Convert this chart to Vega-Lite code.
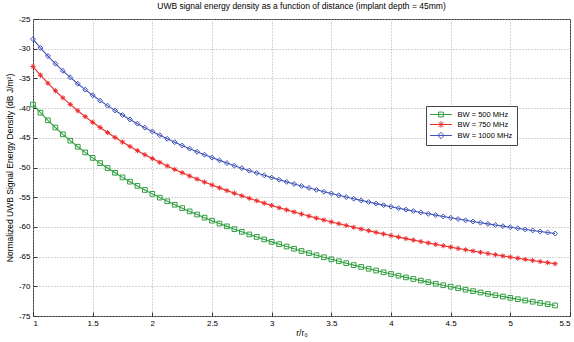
{
  "$schema": "https://vega.github.io/schema/vega-lite/v6.json",
  "width": 537,
  "height": 297,
  "autosize": "none",
  "padding": {"left": 33, "top": 19, "right": 4, "bottom": 26},
  "background": "white",
  "title": {"text": "UWB signal energy density as a function of distance (implant depth = 45mm)", "font": "Liberation Sans", "fontSize": 8.5, "fontWeight": "normal", "color": "#000", "offset": 5},
  "config": {
    "locale": {"number": {"decimal": ".", "thousands": ",", "grouping": [3], "currency": ["$", ""], "minus": "-"}},
    "view": {"stroke": "#333", "strokeWidth": 1},
    "axis": {"labelFont": "Liberation Sans", "labelFontSize": 8, "labelColor": "#000", "titleFont": "Liberation Sans", "titleFontSize": 8.5, "titleFontWeight": "normal", "titleColor": "#000", "grid": true, "gridColor": "#aaa", "gridDash": [1, 2], "gridOpacity": 1, "domain": false, "tickColor": "#333", "tickSize": -4, "labelPadding": 7},
    "legend": {"title": null, "orient": "none", "legendX": 393, "legendY": 87, "fillColor": "white", "strokeColor": "#444", "padding": 4, "symbolSize": 64, "symbolOffset": 6.5, "labelOffset": 12, "rowPadding": 0, "labelFont": "Liberation Sans", "labelFontSize": 7.5, "labelColor": "#000", "symbolStrokeWidth": 1, "symbolOpacity": 1}
  },
  "data": {"values": [
    {"r": 1, "energy": -28.40, "bw": "BW = 1000 MHz"},
    {"r": 1.0625, "energy": -29.87, "bw": "BW = 1000 MHz"},
    {"r": 1.125, "energy": -31.24, "bw": "BW = 1000 MHz"},
    {"r": 1.1875, "energy": -32.52, "bw": "BW = 1000 MHz"},
    {"r": 1.25, "energy": -33.72, "bw": "BW = 1000 MHz"},
    {"r": 1.3125, "energy": -34.84, "bw": "BW = 1000 MHz"},
    {"r": 1.375, "energy": -35.90, "bw": "BW = 1000 MHz"},
    {"r": 1.4375, "energy": -36.90, "bw": "BW = 1000 MHz"},
    {"r": 1.5, "energy": -37.84, "bw": "BW = 1000 MHz"},
    {"r": 1.5625, "energy": -38.74, "bw": "BW = 1000 MHz"},
    {"r": 1.625, "energy": -39.59, "bw": "BW = 1000 MHz"},
    {"r": 1.6875, "energy": -40.40, "bw": "BW = 1000 MHz"},
    {"r": 1.75, "energy": -41.17, "bw": "BW = 1000 MHz"},
    {"r": 1.8125, "energy": -41.91, "bw": "BW = 1000 MHz"},
    {"r": 1.875, "energy": -42.62, "bw": "BW = 1000 MHz"},
    {"r": 1.9375, "energy": -43.29, "bw": "BW = 1000 MHz"},
    {"r": 2, "energy": -43.94, "bw": "BW = 1000 MHz"},
    {"r": 2.0625, "energy": -44.56, "bw": "BW = 1000 MHz"},
    {"r": 2.125, "energy": -45.16, "bw": "BW = 1000 MHz"},
    {"r": 2.1875, "energy": -45.74, "bw": "BW = 1000 MHz"},
    {"r": 2.25, "energy": -46.30, "bw": "BW = 1000 MHz"},
    {"r": 2.3125, "energy": -46.83, "bw": "BW = 1000 MHz"},
    {"r": 2.375, "energy": -47.35, "bw": "BW = 1000 MHz"},
    {"r": 2.4375, "energy": -47.85, "bw": "BW = 1000 MHz"},
    {"r": 2.5, "energy": -48.33, "bw": "BW = 1000 MHz"},
    {"r": 2.5625, "energy": -48.80, "bw": "BW = 1000 MHz"},
    {"r": 2.625, "energy": -49.25, "bw": "BW = 1000 MHz"},
    {"r": 2.6875, "energy": -49.69, "bw": "BW = 1000 MHz"},
    {"r": 2.75, "energy": -50.11, "bw": "BW = 1000 MHz"},
    {"r": 2.8125, "energy": -50.53, "bw": "BW = 1000 MHz"},
    {"r": 2.875, "energy": -50.93, "bw": "BW = 1000 MHz"},
    {"r": 2.9375, "energy": -51.32, "bw": "BW = 1000 MHz"},
    {"r": 3, "energy": -51.70, "bw": "BW = 1000 MHz"},
    {"r": 3.0625, "energy": -52.06, "bw": "BW = 1000 MHz"},
    {"r": 3.125, "energy": -52.42, "bw": "BW = 1000 MHz"},
    {"r": 3.1875, "energy": -52.77, "bw": "BW = 1000 MHz"},
    {"r": 3.25, "energy": -53.11, "bw": "BW = 1000 MHz"},
    {"r": 3.3125, "energy": -53.44, "bw": "BW = 1000 MHz"},
    {"r": 3.375, "energy": -53.76, "bw": "BW = 1000 MHz"},
    {"r": 3.4375, "energy": -54.08, "bw": "BW = 1000 MHz"},
    {"r": 3.5, "energy": -54.38, "bw": "BW = 1000 MHz"},
    {"r": 3.5625, "energy": -54.68, "bw": "BW = 1000 MHz"},
    {"r": 3.625, "energy": -54.98, "bw": "BW = 1000 MHz"},
    {"r": 3.6875, "energy": -55.26, "bw": "BW = 1000 MHz"},
    {"r": 3.75, "energy": -55.54, "bw": "BW = 1000 MHz"},
    {"r": 3.8125, "energy": -55.82, "bw": "BW = 1000 MHz"},
    {"r": 3.875, "energy": -56.08, "bw": "BW = 1000 MHz"},
    {"r": 3.9375, "energy": -56.34, "bw": "BW = 1000 MHz"},
    {"r": 4, "energy": -56.60, "bw": "BW = 1000 MHz"},
    {"r": 4.0625, "energy": -56.85, "bw": "BW = 1000 MHz"},
    {"r": 4.125, "energy": -57.09, "bw": "BW = 1000 MHz"},
    {"r": 4.1875, "energy": -57.33, "bw": "BW = 1000 MHz"},
    {"r": 4.25, "energy": -57.57, "bw": "BW = 1000 MHz"},
    {"r": 4.3125, "energy": -57.80, "bw": "BW = 1000 MHz"},
    {"r": 4.375, "energy": -58.02, "bw": "BW = 1000 MHz"},
    {"r": 4.4375, "energy": -58.25, "bw": "BW = 1000 MHz"},
    {"r": 4.5, "energy": -58.46, "bw": "BW = 1000 MHz"},
    {"r": 4.5625, "energy": -58.68, "bw": "BW = 1000 MHz"},
    {"r": 4.625, "energy": -58.89, "bw": "BW = 1000 MHz"},
    {"r": 4.6875, "energy": -59.09, "bw": "BW = 1000 MHz"},
    {"r": 4.75, "energy": -59.29, "bw": "BW = 1000 MHz"},
    {"r": 4.8125, "energy": -59.49, "bw": "BW = 1000 MHz"},
    {"r": 4.875, "energy": -59.68, "bw": "BW = 1000 MHz"},
    {"r": 4.9375, "energy": -59.87, "bw": "BW = 1000 MHz"},
    {"r": 5, "energy": -60.06, "bw": "BW = 1000 MHz"},
    {"r": 5.0625, "energy": -60.24, "bw": "BW = 1000 MHz"},
    {"r": 5.125, "energy": -60.43, "bw": "BW = 1000 MHz"},
    {"r": 5.1875, "energy": -60.60, "bw": "BW = 1000 MHz"},
    {"r": 5.25, "energy": -60.78, "bw": "BW = 1000 MHz"},
    {"r": 5.3125, "energy": -60.95, "bw": "BW = 1000 MHz"},
    {"r": 5.375, "energy": -61.12, "bw": "BW = 1000 MHz"},
    {"r": 1, "energy": -33.00, "bw": "BW = 750 MHz"},
    {"r": 1.0625, "energy": -34.46, "bw": "BW = 750 MHz"},
    {"r": 1.125, "energy": -35.81, "bw": "BW = 750 MHz"},
    {"r": 1.1875, "energy": -37.08, "bw": "BW = 750 MHz"},
    {"r": 1.25, "energy": -38.27, "bw": "BW = 750 MHz"},
    {"r": 1.3125, "energy": -39.38, "bw": "BW = 750 MHz"},
    {"r": 1.375, "energy": -40.44, "bw": "BW = 750 MHz"},
    {"r": 1.4375, "energy": -41.43, "bw": "BW = 750 MHz"},
    {"r": 1.5, "energy": -42.38, "bw": "BW = 750 MHz"},
    {"r": 1.5625, "energy": -43.27, "bw": "BW = 750 MHz"},
    {"r": 1.625, "energy": -44.12, "bw": "BW = 750 MHz"},
    {"r": 1.6875, "energy": -44.94, "bw": "BW = 750 MHz"},
    {"r": 1.75, "energy": -45.71, "bw": "BW = 750 MHz"},
    {"r": 1.8125, "energy": -46.45, "bw": "BW = 750 MHz"},
    {"r": 1.875, "energy": -47.17, "bw": "BW = 750 MHz"},
    {"r": 1.9375, "energy": -47.85, "bw": "BW = 750 MHz"},
    {"r": 2, "energy": -48.50, "bw": "BW = 750 MHz"},
    {"r": 2.0625, "energy": -49.13, "bw": "BW = 750 MHz"},
    {"r": 2.125, "energy": -49.74, "bw": "BW = 750 MHz"},
    {"r": 2.1875, "energy": -50.32, "bw": "BW = 750 MHz"},
    {"r": 2.25, "energy": -50.88, "bw": "BW = 750 MHz"},
    {"r": 2.3125, "energy": -51.43, "bw": "BW = 750 MHz"},
    {"r": 2.375, "energy": -51.95, "bw": "BW = 750 MHz"},
    {"r": 2.4375, "energy": -52.46, "bw": "BW = 750 MHz"},
    {"r": 2.5, "energy": -52.95, "bw": "BW = 750 MHz"},
    {"r": 2.5625, "energy": -53.43, "bw": "BW = 750 MHz"},
    {"r": 2.625, "energy": -53.89, "bw": "BW = 750 MHz"},
    {"r": 2.6875, "energy": -54.33, "bw": "BW = 750 MHz"},
    {"r": 2.75, "energy": -54.77, "bw": "BW = 750 MHz"},
    {"r": 2.8125, "energy": -55.19, "bw": "BW = 750 MHz"},
    {"r": 2.875, "energy": -55.60, "bw": "BW = 750 MHz"},
    {"r": 2.9375, "energy": -56.00, "bw": "BW = 750 MHz"},
    {"r": 3, "energy": -56.39, "bw": "BW = 750 MHz"},
    {"r": 3.0625, "energy": -56.78, "bw": "BW = 750 MHz"},
    {"r": 3.125, "energy": -57.13, "bw": "BW = 750 MHz"},
    {"r": 3.1875, "energy": -57.49, "bw": "BW = 750 MHz"},
    {"r": 3.25, "energy": -57.84, "bw": "BW = 750 MHz"},
    {"r": 3.3125, "energy": -58.18, "bw": "BW = 750 MHz"},
    {"r": 3.375, "energy": -58.52, "bw": "BW = 750 MHz"},
    {"r": 3.4375, "energy": -58.84, "bw": "BW = 750 MHz"},
    {"r": 3.5, "energy": -59.16, "bw": "BW = 750 MHz"},
    {"r": 3.5625, "energy": -59.47, "bw": "BW = 750 MHz"},
    {"r": 3.625, "energy": -59.77, "bw": "BW = 750 MHz"},
    {"r": 3.6875, "energy": -60.07, "bw": "BW = 750 MHz"},
    {"r": 3.75, "energy": -60.36, "bw": "BW = 750 MHz"},
    {"r": 3.8125, "energy": -60.64, "bw": "BW = 750 MHz"},
    {"r": 3.875, "energy": -60.92, "bw": "BW = 750 MHz"},
    {"r": 3.9375, "energy": -61.19, "bw": "BW = 750 MHz"},
    {"r": 4, "energy": -61.46, "bw": "BW = 750 MHz"},
    {"r": 4.0625, "energy": -61.72, "bw": "BW = 750 MHz"},
    {"r": 4.125, "energy": -61.97, "bw": "BW = 750 MHz"},
    {"r": 4.1875, "energy": -62.22, "bw": "BW = 750 MHz"},
    {"r": 4.25, "energy": -62.47, "bw": "BW = 750 MHz"},
    {"r": 4.3125, "energy": -62.71, "bw": "BW = 750 MHz"},
    {"r": 4.375, "energy": -62.94, "bw": "BW = 750 MHz"},
    {"r": 4.4375, "energy": -63.18, "bw": "BW = 750 MHz"},
    {"r": 4.5, "energy": -63.40, "bw": "BW = 750 MHz"},
    {"r": 4.5625, "energy": -63.63, "bw": "BW = 750 MHz"},
    {"r": 4.625, "energy": -63.85, "bw": "BW = 750 MHz"},
    {"r": 4.6875, "energy": -64.06, "bw": "BW = 750 MHz"},
    {"r": 4.75, "energy": -64.27, "bw": "BW = 750 MHz"},
    {"r": 4.8125, "energy": -64.48, "bw": "BW = 750 MHz"},
    {"r": 4.875, "energy": -64.69, "bw": "BW = 750 MHz"},
    {"r": 4.9375, "energy": -64.89, "bw": "BW = 750 MHz"},
    {"r": 5, "energy": -65.08, "bw": "BW = 750 MHz"},
    {"r": 5.0625, "energy": -65.28, "bw": "BW = 750 MHz"},
    {"r": 5.125, "energy": -65.47, "bw": "BW = 750 MHz"},
    {"r": 5.1875, "energy": -65.66, "bw": "BW = 750 MHz"},
    {"r": 5.25, "energy": -65.84, "bw": "BW = 750 MHz"},
    {"r": 5.3125, "energy": -66.02, "bw": "BW = 750 MHz"},
    {"r": 5.375, "energy": -66.20, "bw": "BW = 750 MHz"},
    {"r": 1, "energy": -39.40, "bw": "BW = 500 MHz"},
    {"r": 1.0625, "energy": -40.78, "bw": "BW = 500 MHz"},
    {"r": 1.125, "energy": -42.06, "bw": "BW = 500 MHz"},
    {"r": 1.1875, "energy": -43.27, "bw": "BW = 500 MHz"},
    {"r": 1.25, "energy": -44.41, "bw": "BW = 500 MHz"},
    {"r": 1.3125, "energy": -45.48, "bw": "BW = 500 MHz"},
    {"r": 1.375, "energy": -46.50, "bw": "BW = 500 MHz"},
    {"r": 1.4375, "energy": -47.46, "bw": "BW = 500 MHz"},
    {"r": 1.5, "energy": -48.38, "bw": "BW = 500 MHz"},
    {"r": 1.5625, "energy": -49.26, "bw": "BW = 500 MHz"},
    {"r": 1.625, "energy": -50.09, "bw": "BW = 500 MHz"},
    {"r": 1.6875, "energy": -50.89, "bw": "BW = 500 MHz"},
    {"r": 1.75, "energy": -51.66, "bw": "BW = 500 MHz"},
    {"r": 1.8125, "energy": -52.39, "bw": "BW = 500 MHz"},
    {"r": 1.875, "energy": -53.10, "bw": "BW = 500 MHz"},
    {"r": 1.9375, "energy": -53.78, "bw": "BW = 500 MHz"},
    {"r": 2, "energy": -54.44, "bw": "BW = 500 MHz"},
    {"r": 2.0625, "energy": -55.07, "bw": "BW = 500 MHz"},
    {"r": 2.125, "energy": -55.68, "bw": "BW = 500 MHz"},
    {"r": 2.1875, "energy": -56.27, "bw": "BW = 500 MHz"},
    {"r": 2.25, "energy": -56.84, "bw": "BW = 500 MHz"},
    {"r": 2.3125, "energy": -57.39, "bw": "BW = 500 MHz"},
    {"r": 2.375, "energy": -57.92, "bw": "BW = 500 MHz"},
    {"r": 2.4375, "energy": -58.44, "bw": "BW = 500 MHz"},
    {"r": 2.5, "energy": -58.95, "bw": "BW = 500 MHz"},
    {"r": 2.5625, "energy": -59.44, "bw": "BW = 500 MHz"},
    {"r": 2.625, "energy": -59.91, "bw": "BW = 500 MHz"},
    {"r": 2.6875, "energy": -60.38, "bw": "BW = 500 MHz"},
    {"r": 2.75, "energy": -60.83, "bw": "BW = 500 MHz"},
    {"r": 2.8125, "energy": -61.27, "bw": "BW = 500 MHz"},
    {"r": 2.875, "energy": -61.69, "bw": "BW = 500 MHz"},
    {"r": 2.9375, "energy": -62.11, "bw": "BW = 500 MHz"},
    {"r": 3, "energy": -62.52, "bw": "BW = 500 MHz"},
    {"r": 3.0625, "energy": -62.91, "bw": "BW = 500 MHz"},
    {"r": 3.125, "energy": -63.30, "bw": "BW = 500 MHz"},
    {"r": 3.1875, "energy": -63.68, "bw": "BW = 500 MHz"},
    {"r": 3.25, "energy": -64.05, "bw": "BW = 500 MHz"},
    {"r": 3.3125, "energy": -64.41, "bw": "BW = 500 MHz"},
    {"r": 3.375, "energy": -64.77, "bw": "BW = 500 MHz"},
    {"r": 3.4375, "energy": -65.11, "bw": "BW = 500 MHz"},
    {"r": 3.5, "energy": -65.45, "bw": "BW = 500 MHz"},
    {"r": 3.5625, "energy": -65.78, "bw": "BW = 500 MHz"},
    {"r": 3.625, "energy": -66.11, "bw": "BW = 500 MHz"},
    {"r": 3.6875, "energy": -66.43, "bw": "BW = 500 MHz"},
    {"r": 3.75, "energy": -66.74, "bw": "BW = 500 MHz"},
    {"r": 3.8125, "energy": -67.05, "bw": "BW = 500 MHz"},
    {"r": 3.875, "energy": -67.35, "bw": "BW = 500 MHz"},
    {"r": 3.9375, "energy": -67.64, "bw": "BW = 500 MHz"},
    {"r": 4, "energy": -67.93, "bw": "BW = 500 MHz"},
    {"r": 4.0625, "energy": -68.22, "bw": "BW = 500 MHz"},
    {"r": 4.125, "energy": -68.50, "bw": "BW = 500 MHz"},
    {"r": 4.1875, "energy": -68.77, "bw": "BW = 500 MHz"},
    {"r": 4.25, "energy": -69.04, "bw": "BW = 500 MHz"},
    {"r": 4.3125, "energy": -69.30, "bw": "BW = 500 MHz"},
    {"r": 4.375, "energy": -69.57, "bw": "BW = 500 MHz"},
    {"r": 4.4375, "energy": -69.82, "bw": "BW = 500 MHz"},
    {"r": 4.5, "energy": -70.07, "bw": "BW = 500 MHz"},
    {"r": 4.5625, "energy": -70.32, "bw": "BW = 500 MHz"},
    {"r": 4.625, "energy": -70.57, "bw": "BW = 500 MHz"},
    {"r": 4.6875, "energy": -70.81, "bw": "BW = 500 MHz"},
    {"r": 4.75, "energy": -71.04, "bw": "BW = 500 MHz"},
    {"r": 4.8125, "energy": -71.27, "bw": "BW = 500 MHz"},
    {"r": 4.875, "energy": -71.50, "bw": "BW = 500 MHz"},
    {"r": 4.9375, "energy": -71.73, "bw": "BW = 500 MHz"},
    {"r": 5, "energy": -71.95, "bw": "BW = 500 MHz"},
    {"r": 5.0625, "energy": -72.17, "bw": "BW = 500 MHz"},
    {"r": 5.125, "energy": -72.39, "bw": "BW = 500 MHz"},
    {"r": 5.1875, "energy": -72.60, "bw": "BW = 500 MHz"},
    {"r": 5.25, "energy": -72.81, "bw": "BW = 500 MHz"},
    {"r": 5.3125, "energy": -73.01, "bw": "BW = 500 MHz"},
    {"r": 5.375, "energy": -73.22, "bw": "BW = 500 MHz"}
  ]},
  "encoding": {
    "x": {"field": "r", "type": "quantitative", "scale": {"domain": [1, 5.5], "nice": false, "zero": false}, "axis": {"values": [1, 1.5, 2, 2.5, 3, 3.5, 4, 4.5, 5, 5.5], "format": "~g", "title": "r/r₀", "titlePadding": 1}},
    "y": {"field": "energy", "type": "quantitative", "scale": {"domain": [-75, -25], "nice": false, "zero": false}, "axis": {"values": [-75, -70, -65, -60, -55, -50, -45, -40, -35, -30, -25], "format": "~g", "title": "Normalized UWB Signal Energy Density (dB J/m²)", "titlePadding": 4}},
    "color": {"field": "bw", "type": "nominal", "scale": {"domain": ["BW = 500 MHz", "BW = 750 MHz", "BW = 1000 MHz"], "range": ["#2f9e3f", "#ee2b2b", "#4053b8"]}}
  },
  "layer": [
    {"mark": {"type": "line", "strokeWidth": 1.1}},
    {"transform": [{"filter": {"field": "bw", "equal": "BW = 500 MHz"}}],
     "mark": {"type": "point", "shape": "square", "filled": false, "strokeWidth": 1, "size": 22, "opacity": 1}},
    {"transform": [{"filter": {"field": "bw", "equal": "BW = 750 MHz"}}],
     "mark": {"type": "point", "shape": "M-1,0H1M0,-1V1M-0.7,-0.7L0.7,0.7M-0.7,0.7L0.7,-0.7", "filled": false, "strokeWidth": 1, "size": 26, "opacity": 1}},
    {"transform": [{"filter": {"field": "bw", "equal": "BW = 1000 MHz"}}],
     "mark": {"type": "point", "shape": "diamond", "filled": false, "strokeWidth": 1, "size": 24, "opacity": 1}},
    {"mark": {"type": "point", "filled": false, "opacity": 0},
     "encoding": {
       "shape": {"field": "bw", "type": "nominal", "scale": {"domain": ["BW = 500 MHz", "BW = 750 MHz", "BW = 1000 MHz"], "range": ["M-2.75,0H2.75M-0.6,-0.6H0.6V0.6H-0.6Z", "M-2.75,0H2.75M0,-0.8V0.8M-0.6,-0.6L0.6,0.6M-0.6,0.6L0.6,-0.6", "M-2.75,0H2.75M0,-0.8L0.8,0L0,0.8L-0.8,0Z"]}}
     }}
  ]
}
